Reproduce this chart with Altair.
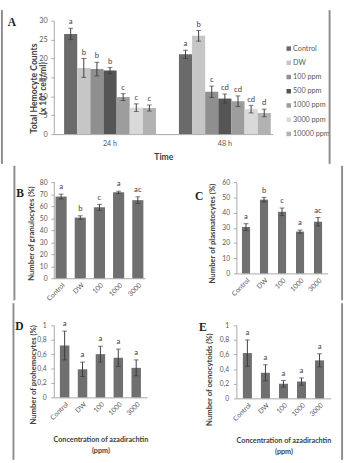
import altair as alt
import pandas as pd

FONT = "Lato"
SERIF = "Liberation Serif"
TXT = "#595959"
TITLE = "#404040"
AXC = "#a6a6a6"
FRAME = "#8c8c8c"

# ---------------- Panel A data ----------------
times = ["24 h", "48 h"]
treatments = ["Control", "DW", "100 ppm", "500 ppm", "1000 ppm", "3000 ppm", "10000 ppm"]
thc_24 = [26.5, 17.5, 17.2, 16.8, 9.8, 7.0, 6.9]
thc_24_err = [1.5, 2.5, 1.8, 0.8, 0.9, 1.0, 0.8]
thc_24_sig = ["a", "b", "b", "b", "c", "c", "c"]
thc_48 = [21.1, 26.0, 11.2, 9.4, 8.7, 6.6, 5.6]
thc_48_err = [1.1, 1.4, 1.5, 1.2, 1.4, 1.0, 1.0]
thc_48_sig = ["a", "b", "c", "cd", "cd", "cd", "d"]
colors_a = ["#6a6a6a", "#c6c6c6", "#8f8f8f", "#555555", "#9d9d9d", "#d9d9d9", "#b2b2b2"]

# ---------------- Panels B-E data ----------------
doses = ["Control", "DW", "100", "1000", "3000"]
gran = [68.0, 50.5, 59.0, 71.5, 65.0]
gran_err = [2.0, 1.5, 2.5, 1.0, 2.8]
gran_sig = ["a", "b", "c", "a", "ac"]
plasma = [30.5, 48.5, 40.5, 27.5, 34.0]
plasma_err = [2.2, 1.5, 2.5, 1.0, 2.8]
plasma_sig = ["a", "b", "c", "a", "ac"]
prohemo = [0.72, 0.39, 0.60, 0.55, 0.41]
prohemo_err = [0.20, 0.10, 0.11, 0.12, 0.11]
prohemo_sig = ["a", "a", "a", "a", "a"]
oeno = [0.62, 0.35, 0.20, 0.23, 0.52]
oeno_err = [0.18, 0.11, 0.045, 0.05, 0.09]
oeno_sig = ["a", "a", "a", "a", "a"]


def one_row():
    return alt.Chart(pd.DataFrame({"d": [0]}))


def vseg(x, y1, y2):
    # frame edge drawn as a thin filled rect (exact bounds, no stroke expansion)
    return one_row().mark_rect(color=FRAME, strokeWidth=0).encode(
        x=alt.value(x - 1), x2=alt.value(x + 1), y=alt.value(y1), y2=alt.value(y2))


def blank(x1, x2, y1, y2):
    return one_row().mark_rect(color="white", strokeWidth=0).encode(
        x=alt.value(x1), x2=alt.value(x2), y=alt.value(y1), y2=alt.value(y2))


def letter(t, x, y):
    return one_row().mark_text(font=SERIF, fontWeight="bold", fontSize=12,
                               align="left", baseline="middle", color="#222222").encode(
        x=alt.value(x), y=alt.value(y), text=alt.value(t))


# ---------------- Panel A ----------------
rows = []
for t, vals, errs, sigs in [("24 h", thc_24, thc_24_err, thc_24_sig),
                            ("48 h", thc_48, thc_48_err, thc_48_sig)]:
    for tr, v, e, s in zip(treatments, vals, errs, sigs):
        rows.append({"time": t, "treatment": tr, "value": v,
                     "lo": v - e, "hi": v + e, "sig": s})
dfA = pd.DataFrame(rows)

WA, HA = 228, 118
axA_x = alt.Axis(labelAngle=0, ticks=False, labelPadding=6, labelFont=FONT,
                 labelFontSize=7.5, labelColor=TXT, domainColor=AXC,
                 title="Time", titleFont=FONT, titleFontSize=9, titleFontWeight="bold",
                 titleColor=TITLE, titleBaseline="top", titleY=19)
axA_y = alt.Axis(values=[0, 5, 10, 15, 20, 25, 30], tickSize=3, labelPadding=4,
                 labelFont=FONT, labelFontSize=7.5, labelColor=TXT, domainColor=AXC,
                 tickColor=AXC, grid=False,
                 title=["Total Hemocyte Counts", "(x 10⁶ cell/ml)"], titleFont=FONT,
                 titleFontSize=9, titleFontWeight="bold", titleColor=TITLE,
                 titleLineHeight=9.5, titleBaseline="bottom", titleX=-16.5, titleY=70)
xA = alt.X("time:N", sort=times,
           scale=alt.Scale(paddingInner=0.2, paddingOuter=0.054, align=0.83), axis=axA_x)
xoA = alt.XOffset("treatment:N", sort=treatments,
                  scale=alt.Scale(paddingInner=0, paddingOuter=0))
colorA = alt.Color("treatment:N", sort=treatments,
                   scale=alt.Scale(domain=treatments, range=colors_a), legend=None)


def yA(f):
    return alt.Y(f, scale=alt.Scale(domain=[0, 30], nice=False), axis=axA_y)


baseA = alt.Chart(dfA)
barsA = baseA.mark_bar().encode(x=xA, xOffset=xoA, y=yA("value:Q"), color=colorA)
errA = baseA.mark_rule(color="#3a3a3a", strokeWidth=1).encode(
    x=xA, xOffset=xoA, y=yA("lo:Q"), y2="hi:Q")
capHiA = baseA.mark_tick(orient="horizontal", size=5, thickness=1, color="#3a3a3a").encode(
    x=xA, xOffset=xoA, y=yA("hi:Q"))
capLoA = baseA.mark_tick(orient="horizontal", size=5, thickness=1, color="#3a3a3a").encode(
    x=xA, xOffset=xoA, y=yA("lo:Q"))
sigA = baseA.mark_text(font=FONT, fontSize=8, baseline="bottom", dy=-2, color=TITLE).encode(
    x=xA, xOffset=xoA, y=yA("hi:Q"), text="sig:N")

panelA = alt.layer(
    barsA, errA, capHiA, capLoA, sigA,
    letter("A", -48, 2),
    vseg(-54, -11, 149),
).properties(width=WA, height=HA)

# legend drawn as a small chart beside panel A
dfL = pd.DataFrame({"treatment": treatments})
legY = alt.Y("treatment:N", sort=treatments,
             scale=alt.Scale(type="point", range=[29, 117.8], padding=0), axis=None)
legSq = alt.Chart(dfL).mark_square(size=22, opacity=1).encode(
    x=alt.value(2.5), y=legY, color=colorA)
legTx = alt.Chart(dfL).mark_text(align="left", baseline="middle", font=FONT,
                                 fontSize=7.5, color=TXT).encode(
    x=alt.value(7), y=legY, text="treatment:N")
legendA = alt.layer(legSq, legTx, vseg(45, -11, 149)).properties(width=40, height=HA)


# ---------------- Small panels ----------------
def small_panel(vals, errs, sigs, ymax, yticks, ytitle, width, height, pi, po,
                comma, title_x, title_y, lab_pad, xtitle=None, xtitle_y=0,
                let=None, segs=(), blanks=()):
    df = pd.DataFrame({"dose": doses, "value": vals,
                       "lo": [v - e for v, e in zip(vals, errs)],
                       "hi": [v + e for v, e in zip(vals, errs)],
                       "sig": sigs})
    ax_kw = dict(labelAngle=-45, ticks=False, labelPadding=3, labelFont=FONT,
                 labelFontSize=7, labelColor=TXT, domainColor=AXC)
    if xtitle is not None:
        ax_x = alt.Axis(title=xtitle, titleFont=FONT, titleFontSize=7.5,
                        titleFontWeight="bold", titleColor=TITLE, titleLineHeight=11,
                        titleBaseline="top", titleY=xtitle_y, **ax_kw)
    else:
        ax_x = alt.Axis(title=None, **ax_kw)
    y_kw = dict(values=yticks, tickSize=3, labelPadding=lab_pad, labelFont=FONT,
                labelFontSize=7, labelColor=TXT, domainColor=AXC, tickColor=AXC,
                grid=False, title=ytitle, titleFont=FONT, titleFontSize=8,
                titleFontWeight="bold", titleColor=TITLE, titleBaseline="bottom",
                titleX=title_x, titleY=title_y)
    if comma:
        ax_y = alt.Axis(format=".1~f", labelExpr="replace(datum.label, '.', ',')", **y_kw)
    else:
        ax_y = alt.Axis(**y_kw)
    x = alt.X("dose:N", sort=doses,
              scale=alt.Scale(paddingInner=pi, paddingOuter=po), axis=ax_x)

    def y(f):
        return alt.Y(f, scale=alt.Scale(domain=[0, ymax], nice=False), axis=ax_y)

    base = alt.Chart(df)
    bars = base.mark_bar(color="#6f6f6f").encode(x=x, y=y("value:Q"))
    err = base.mark_rule(color="#3a3a3a", strokeWidth=1).encode(x=x, y=y("lo:Q"), y2="hi:Q")
    cap_hi = base.mark_tick(orient="horizontal", size=5, thickness=1,
                            color="#3a3a3a").encode(x=x, y=y("hi:Q"))
    cap_lo = base.mark_tick(orient="horizontal", size=5, thickness=1,
                            color="#3a3a3a").encode(x=x, y=y("lo:Q"))
    sig = base.mark_text(font=FONT, fontSize=8, baseline="bottom", dy=-3,
                         color=TITLE).encode(x=x, y=y("hi:Q"), text="sig:N")
    layers = [bars, err, cap_hi, cap_lo, sig]
    for b in blanks:
        layers.append(blank(*b))
    if let is not None:
        layers.append(letter(*let))
    for s in segs:
        layers.append(vseg(*s))
    return alt.layer(*layers).properties(width=width, height=height)


panelB = small_panel(gran, gran_err, gran_sig, 80, [0, 10, 20, 30, 40, 50, 60, 70, 80],
                     "Number of granulocytes (%)", 95, 100, 0.42, 0.09, False,
                     -19.5, 53, 4, let=("B", -39, 11), segs=[(-41, -17, 123)])
panelC = small_panel(plasma, plasma_err, plasma_sig, 60, [0, 10, 20, 30, 40, 50, 60],
                     "Number of plasmatocytes (%)", 95, 95, 0.55, 0.31, False,
                     -20.5, 53, 4, let=("C", -43, 15), segs=[(110, -17, 123)],
                     blanks=[(-62, -48, -17, 123)])
panelD = small_panel(prohemo, prohemo_err, prohemo_sig, 1, [0, 0.2, 0.4, 0.6, 0.8, 1],
                     "Number of prohemocytes (%)", 97, 75, 0.47, 0.34, True,
                     -17, 51, 5, xtitle=["Concentration of azadirachtin", "(ppm)"],
                     xtitle_y=40, let=("D", -40, 1), segs=[(-42, -23, 140)])
panelE = small_panel(oeno, oeno_err, oeno_sig, 1, [0, 0.2, 0.4, 0.6, 0.8, 1],
                     "Number of oenocytoids (%)", 98, 76, 0.5, 0.36, True,
                     -24, 56, 5, xtitle=["Concentration of azadirachtin", "(ppm)"],
                     xtitle_y=40, let=("E", -39, 2), segs=[(110, -23, 140)],
                     blanks=[(-62, -48, -23, 140)])

grid = alt.concat(panelB, panelC, panelD, panelE, columns=2,
                  spacing={"row": 0, "column": 28})

chart = alt.vconcat(
    alt.hconcat(panelA, legendA, spacing=12),
    grid,
    spacing=0,
).properties(padding=0, background="white").configure_view(stroke="white", strokeWidth=1)

chart.save("out.html", embed_options={"renderer": "svg", "actions": False})
